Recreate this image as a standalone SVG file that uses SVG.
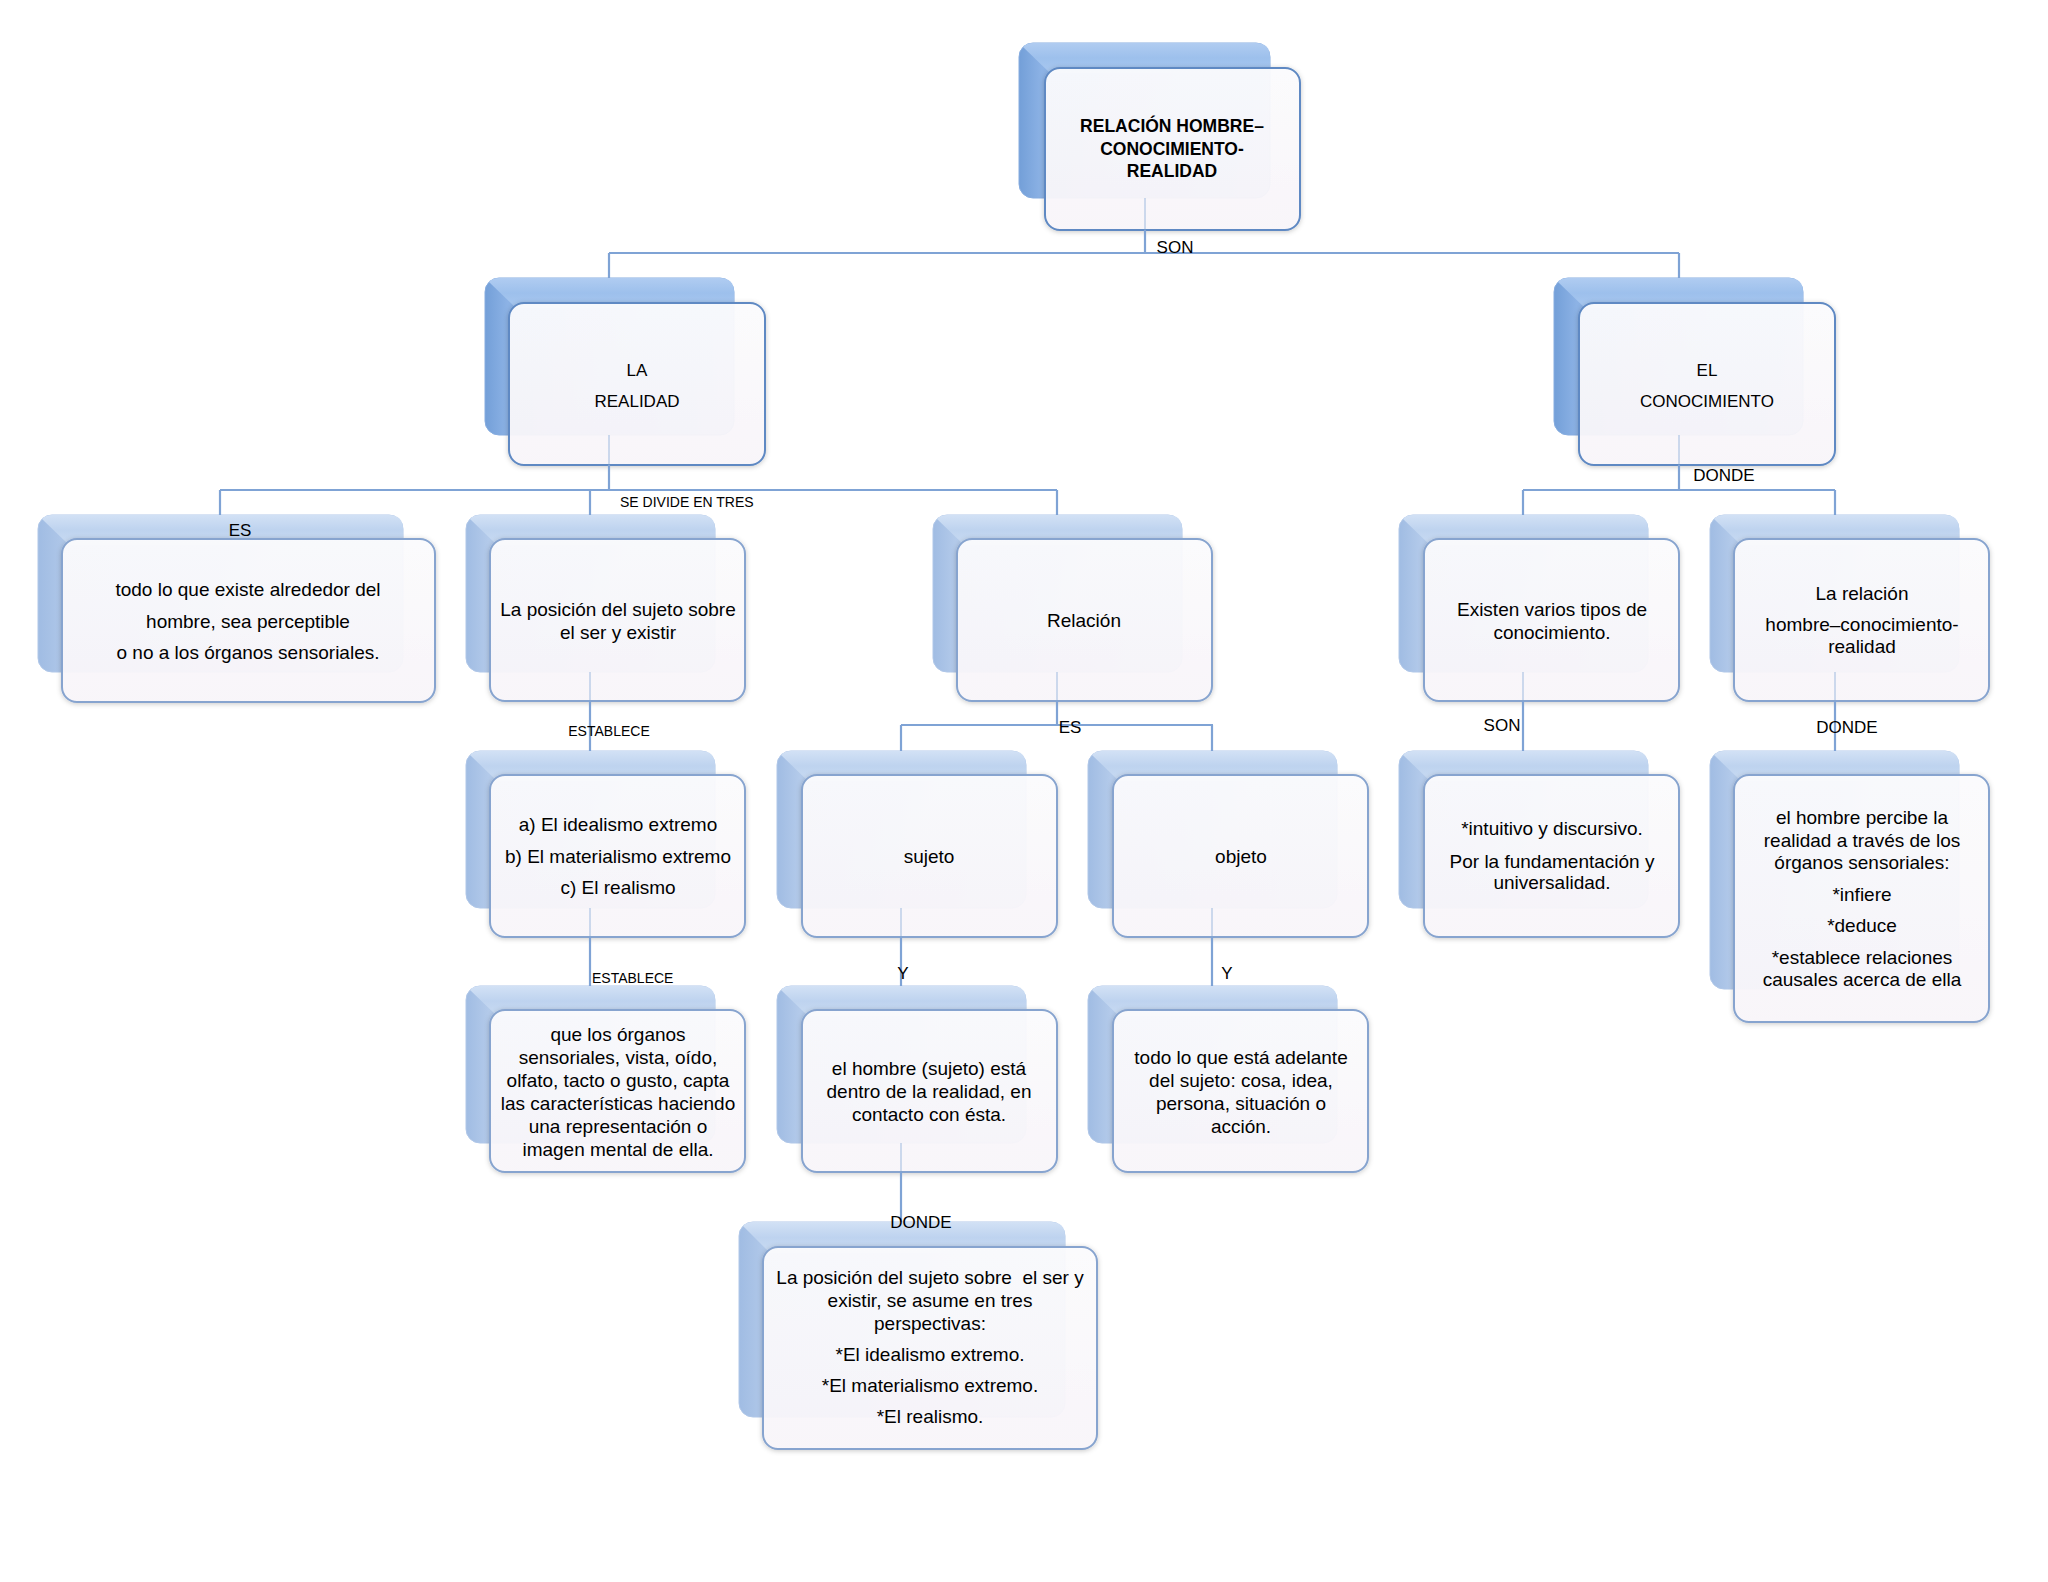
<svg xmlns="http://www.w3.org/2000/svg" width="2048" height="1582" viewBox="0 0 2048 1582">
<defs>
<linearGradient id="leftD" x1="0" y1="0" x2="1" y2="0"><stop offset="0" stop-color="#739fd8"/><stop offset="0.09" stop-color="#8cb2e5"/><stop offset="1" stop-color="#a9c8ef"/></linearGradient>
<linearGradient id="topD" x1="0" y1="0" x2="0" y2="1"><stop offset="0" stop-color="#b0ccf1"/><stop offset="0.5" stop-color="#9dc0ec"/><stop offset="1" stop-color="#a9c8f0"/></linearGradient>
<linearGradient id="leftL" x1="0" y1="0" x2="1" y2="0"><stop offset="0" stop-color="#a0bce3"/><stop offset="0.09" stop-color="#b3caea"/><stop offset="1" stop-color="#c8daf1"/></linearGradient>
<linearGradient id="topL" x1="0" y1="0" x2="0" y2="1"><stop offset="0" stop-color="#d2e1f5"/><stop offset="0.5" stop-color="#bed3ef"/><stop offset="1" stop-color="#c9dbf2"/></linearGradient>
<linearGradient id="frontG" x1="0" y1="0" x2="0" y2="1"><stop offset="0" stop-color="#fcfcfe"/><stop offset="1" stop-color="#f9f6fa"/></linearGradient>
<filter id="sh" x="-10%" y="-10%" width="120%" height="120%"><feDropShadow dx="0" dy="1" stdDeviation="2.5" flood-color="#000" flood-opacity="0.22"/></filter>
</defs>
<style>
.bd{fill:url(#leftD);stroke:#86acdf;stroke-width:1}
.td{fill:url(#topD)}
.bl{fill:url(#leftL);stroke:#b0c7e8;stroke-width:1}
.tl{fill:url(#topL)}
.fd{fill:url(#frontG);fill-opacity:0.94;stroke:#5f89c3;stroke-width:2;filter:url(#sh)}
.fl{fill:url(#frontG);fill-opacity:0.94;stroke:#87a4cf;stroke-width:2;filter:url(#sh)}
text{font-family:"Liberation Sans",Arial,sans-serif;fill:#000;text-anchor:middle}
.t{font-size:19px}
.tc{font-size:17px}
.tb{font-size:17.5px;font-weight:bold}
.lb{font-size:17px}
.ls{font-size:14px}
.c{fill:none;stroke:#7fa3d5;stroke-width:2.2}
.ci{fill:none;stroke:#7fa3d5;stroke-width:1.6;stroke-opacity:0.45}
</style>
<rect width="2048" height="1582" fill="#ffffff"/>

<g id="n1">
<rect class="bd" x="1019" y="43" width="251" height="155" rx="14"/>
<path class="td" d="M1023,47 Q1026,43 1033,43 H1256 Q1270,43 1270,57 V73 H1050 Z"/>
<rect class="fd" x="1045" y="68" width="255" height="162" rx="15"/>
<text class="tb" x="1172" y="132">RELACIÓN HOMBRE–</text>
<text class="tb" x="1172" y="155">CONOCIMIENTO-</text>
<text class="tb" x="1172" y="177">REALIDAD</text>
</g>

<g id="n2">
<rect class="bd" x="485" y="278" width="249" height="157" rx="14"/>
<path class="td" d="M489,282 Q492,278 499,278 H720 Q734,278 734,292 V308 H516 Z"/>
<rect class="fd" x="509" y="303" width="256" height="162" rx="15"/>
<text class="tc" x="637" y="376">LA</text>
<text class="tc" x="637" y="407">REALIDAD</text>
</g>

<g id="n3">
<rect class="bd" x="1554" y="278" width="249" height="157" rx="14"/>
<path class="td" d="M1558,282 Q1561,278 1568,278 H1789 Q1803,278 1803,292 V308 H1585 Z"/>
<rect class="fd" x="1579" y="303" width="256" height="162" rx="15"/>
<text class="tc" x="1707" y="376">EL</text>
<text class="tc" x="1707" y="407">CONOCIMIENTO</text>
</g>

<g id="n4">
<rect class="bl" x="38" y="515" width="365" height="157" rx="14"/>
<path class="tl" d="M42,519 Q45,515 52,515 H389 Q403,515 403,529 V545 H69 Z"/>
<rect class="fl" x="62" y="539" width="373" height="163" rx="15"/>
<text class="t" x="248" y="596">todo lo que existe alrededor del</text>
<text class="t" x="248" y="628">hombre, sea perceptible</text>
<text class="t" x="248" y="659">o no a los órganos sensoriales.</text>
</g>

<g id="n5">
<rect class="bl" x="466" y="515" width="249" height="157" rx="14"/>
<path class="tl" d="M470,519 Q473,515 480,515 H701 Q715,515 715,529 V545 H497 Z"/>
<rect class="fl" x="490" y="539" width="255" height="162" rx="15"/>
<text class="t" x="618" y="616">La posición del sujeto sobre</text>
<text class="t" x="618" y="639">el ser y existir</text>
</g>

<g id="n6">
<rect class="bl" x="933" y="515" width="249" height="157" rx="14"/>
<path class="tl" d="M937,519 Q940,515 947,515 H1168 Q1182,515 1182,529 V545 H964 Z"/>
<rect class="fl" x="957" y="539" width="255" height="162" rx="15"/>
<text class="t" x="1084" y="627">Relación</text>
</g>

<g id="n7">
<rect class="bl" x="1399" y="515" width="249" height="157" rx="14"/>
<path class="tl" d="M1403,519 Q1406,515 1413,515 H1634 Q1648,515 1648,529 V545 H1430 Z"/>
<rect class="fl" x="1424" y="539" width="255" height="162" rx="15"/>
<text class="t" x="1552" y="616">Existen varios tipos de</text>
<text class="t" x="1552" y="639">conocimiento.</text>
</g>

<g id="n8">
<rect class="bl" x="1710" y="515" width="249" height="157" rx="14"/>
<path class="tl" d="M1714,519 Q1717,515 1724,515 H1945 Q1959,515 1959,529 V545 H1741 Z"/>
<rect class="fl" x="1734" y="539" width="255" height="162" rx="15"/>
<text class="t" x="1862" y="600">La relación</text>
<text class="t" x="1862" y="631">hombre–conocimiento-</text>
<text class="t" x="1862" y="653">realidad</text>
</g>

<g id="n9">
<rect class="bl" x="466" y="751" width="249" height="157" rx="14"/>
<path class="tl" d="M470,755 Q473,751 480,751 H701 Q715,751 715,765 V781 H497 Z"/>
<rect class="fl" x="490" y="775" width="255" height="162" rx="15"/>
<text class="t" x="618" y="831">a) El idealismo extremo</text>
<text class="t" x="618" y="863">b) El materialismo extremo</text>
<text class="t" x="618" y="894">c) El realismo</text>
</g>

<g id="n10">
<rect class="bl" x="777" y="751" width="249" height="157" rx="14"/>
<path class="tl" d="M781,755 Q784,751 791,751 H1012 Q1026,751 1026,765 V781 H808 Z"/>
<rect class="fl" x="802" y="775" width="255" height="162" rx="15"/>
<text class="t" x="929" y="863">sujeto</text>
</g>

<g id="n11">
<rect class="bl" x="1088" y="751" width="249" height="157" rx="14"/>
<path class="tl" d="M1092,755 Q1095,751 1102,751 H1323 Q1337,751 1337,765 V781 H1119 Z"/>
<rect class="fl" x="1113" y="775" width="255" height="162" rx="15"/>
<text class="t" x="1241" y="863">objeto</text>
</g>

<g id="n12">
<rect class="bl" x="1399" y="751" width="249" height="157" rx="14"/>
<path class="tl" d="M1403,755 Q1406,751 1413,751 H1634 Q1648,751 1648,765 V781 H1430 Z"/>
<rect class="fl" x="1424" y="775" width="255" height="162" rx="15"/>
<text class="t" x="1552" y="835">*intuitivo y discursivo.</text>
<text class="t" x="1552" y="868">Por la fundamentación y</text>
<text class="t" x="1552" y="889">universalidad.</text>
</g>

<g id="n13">
<rect class="bl" x="1710" y="751" width="249" height="238" rx="14"/>
<path class="tl" d="M1714,755 Q1717,751 1724,751 H1945 Q1959,751 1959,765 V781 H1741 Z"/>
<rect class="fl" x="1734" y="775" width="255" height="247" rx="15"/>
<text class="t" x="1862" y="824">el hombre percibe la</text>
<text class="t" x="1862" y="847">realidad a través de los</text>
<text class="t" x="1862" y="869">órganos sensoriales:</text>
<text class="t" x="1862" y="901">*infiere</text>
<text class="t" x="1862" y="932">*deduce</text>
<text class="t" x="1862" y="964">*establece relaciones</text>
<text class="t" x="1862" y="986">causales acerca de ella</text>
</g>

<g id="n14">
<rect class="bl" x="466" y="986" width="249" height="157" rx="14"/>
<path class="tl" d="M470,990 Q473,986 480,986 H701 Q715,986 715,1000 V1016 H497 Z"/>
<rect class="fl" x="490" y="1010" width="255" height="162" rx="15"/>
<text class="t" x="618" y="1041">que los órganos</text>
<text class="t" x="618" y="1064">sensoriales, vista, oído,</text>
<text class="t" x="618" y="1087">olfato, tacto o gusto, capta</text>
<text class="t" x="618" y="1110">las características haciendo</text>
<text class="t" x="618" y="1133">una representación o</text>
<text class="t" x="618" y="1156">imagen mental de ella.</text>
</g>

<g id="n15">
<rect class="bl" x="777" y="986" width="249" height="157" rx="14"/>
<path class="tl" d="M781,990 Q784,986 791,986 H1012 Q1026,986 1026,1000 V1016 H808 Z"/>
<rect class="fl" x="802" y="1010" width="255" height="162" rx="15"/>
<text class="t" x="929" y="1075">el hombre (sujeto) está</text>
<text class="t" x="929" y="1098">dentro de la realidad, en</text>
<text class="t" x="929" y="1121">contacto con ésta.</text>
</g>

<g id="n16">
<rect class="bl" x="1088" y="986" width="249" height="157" rx="14"/>
<path class="tl" d="M1092,990 Q1095,986 1102,986 H1323 Q1337,986 1337,1000 V1016 H1119 Z"/>
<rect class="fl" x="1113" y="1010" width="255" height="162" rx="15"/>
<text class="t" x="1241" y="1064">todo lo que está adelante</text>
<text class="t" x="1241" y="1087">del sujeto: cosa, idea,</text>
<text class="t" x="1241" y="1110">persona, situación o</text>
<text class="t" x="1241" y="1133">acción.</text>
</g>

<g id="n17">
<rect class="bl" x="739" y="1222" width="326" height="195" rx="14"/>
<path class="tl" d="M743,1226 Q746,1222 753,1222 H1051 Q1065,1222 1065,1236 V1253 H770 Z"/>
<rect class="fl" x="763" y="1247" width="334" height="202" rx="15"/>
<text class="t" x="930" y="1284" xml:space="preserve">La posición del sujeto sobre  el ser y</text>
<text class="t" x="930" y="1307">existir, se asume en tres</text>
<text class="t" x="930" y="1330">perspectivas:</text>
<text class="t" x="930" y="1361">*El idealismo extremo.</text>
<text class="t" x="930" y="1392">*El materialismo extremo.</text>
<text class="t" x="930" y="1423">*El realismo.</text>
</g>

<g id="connectors">
<path class="ci" d="M1145,198 V230 M609,435 V465 M1679,435 V465 M590,672 V701 M1057,672 V701 M1523,672 V701 M1835,672 V701 M590,908 V937 M901,908 V937 M1212,908 V937 M901,1143 V1172"/>
<path class="c" d="M1145,230 V253 M609,253 H1679 M609,253 V278 M1679,253 V278"/>
<path class="c" d="M609,465 V490 M220,490 H1057 M220,490 V515 M590,490 V515 M1057,490 V515"/>
<path class="c" d="M1679,465 V490 M1523,490 H1835 M1523,490 V515 M1835,490 V515"/>
<path class="c" d="M590,701 V751 M590,937 V986"/>
<path class="c" d="M1057,701 V725 M901,725 H1213 M901,725 V751 M1212,725 V751"/>
<path class="c" d="M901,937 V986 M1212,937 V986 M901,1172 V1222"/>
<path class="c" d="M1523,701 V751 M1835,701 V751"/>
<g id="labels">
<text class="lb" x="1175" y="253">SON</text>
<text class="ls" x="620" y="507" style="text-anchor:start">SE DIVIDE EN TRES</text>
<text class="lb" x="240" y="536">ES</text>
<text class="lb" x="1724" y="481">DONDE</text>
<text class="ls" x="609" y="736">ESTABLECE</text>
<text class="lb" x="1070" y="733">ES</text>
<text class="lb" x="1502" y="731">SON</text>
<text class="lb" x="1847" y="733">DONDE</text>
<text class="ls" x="592" y="983" style="text-anchor:start">ESTABLECE</text>
<text class="lb" x="903" y="979">Y</text>
<text class="lb" x="1227" y="979">Y</text>
<text class="lb" x="921" y="1228">DONDE</text>
</g>
</g>
</svg>
